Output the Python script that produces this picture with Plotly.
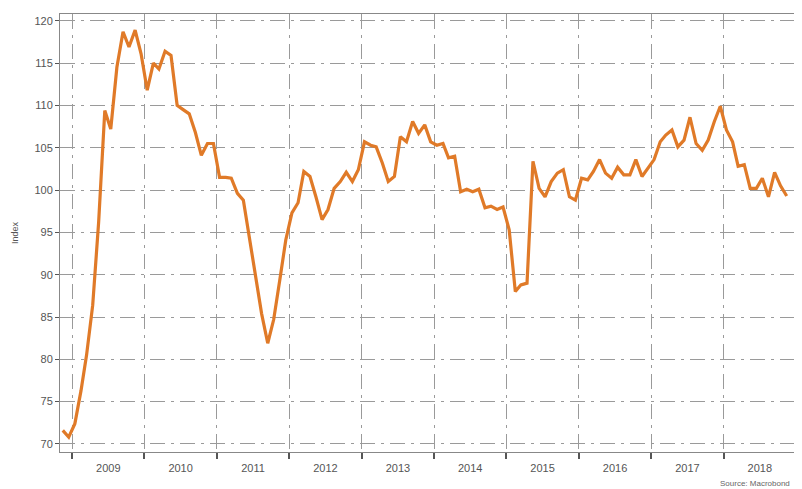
import pandas as pd
import plotly.graph_objects as go

start_month = "2008-11-01"
values = [
    71.6, 70.8,
    72.4, 76.3, 80.5, 86.4, 96.2, 109.4, 107.2, 114.5, 118.7, 116.9, 118.9, 116.1,
    111.8, 115.0, 114.3, 116.4, 115.9, 110.0, 109.5, 109.0, 106.8, 104.1, 105.5, 105.5,
    101.5, 101.5, 101.4, 99.6, 98.8, 94.1, 89.8, 85.4, 81.9, 84.7, 89.4, 94.1,
    97.3, 98.5, 102.2, 101.6, 99.2, 96.5, 97.7, 100.2, 101.0, 102.1, 101.0, 102.4,
    105.7, 105.3, 105.1, 103.2, 101.0, 101.6, 106.3, 105.7, 108.1, 106.7, 107.7, 105.7,
    105.3, 105.5, 103.8, 104.0, 99.8, 100.1, 99.8, 100.1, 97.9, 98.1, 97.7, 98.0,
    95.3, 88.0, 88.8, 89.0, 103.4, 100.2, 99.2, 101.0, 102.0, 102.4, 99.2, 98.8,
    101.4, 101.2, 102.2, 103.6, 102.0, 101.4, 102.7, 101.8, 101.8, 103.6, 101.6, 102.6,
    103.6, 105.7, 106.5, 107.1, 105.1, 105.9, 108.6, 105.5, 104.7, 105.9, 108.1, 109.9,
    107.1, 105.7, 102.8, 103.0, 100.2, 100.2, 101.4, 99.2, 102.1, 100.5, 99.3,
]
dates = pd.date_range(start_month, periods=len(values), freq="MS") + pd.Timedelta(days=14)

y_ticks = [70, 75, 80, 85, 90, 95, 100, 105, 110, 115, 120]

fig = go.Figure()
fig.add_trace(go.Scatter(
    x=dates, y=values, mode="lines",
    line=dict(color="#E07A28", width=3.2),
    hoverinfo="skip", showlegend=False,
))

font = "Liberation Sans, Arial, sans-serif"
fig.update_layout(
    width=794, height=481, autosize=False,
    margin=dict(l=52, r=4, t=6, b=37),
    paper_bgcolor="white", plot_bgcolor="white",
    font=dict(family=font, size=11, color="#555555"),
)
fig.update_xaxes(
    type="date",
    range=["2008-11-01", "2019-01-11"],
    tick0="2009-01-01", dtick="M12", tickformat="%Y",
    ticklabelmode="period",
    ticks="outside", ticklen=6, tickcolor="#555555", tickwidth=2,
    showline=True, linecolor="#888888", linewidth=1, mirror=True,
    showgrid=True, gridcolor="#9a9a9a", gridwidth=1, griddash="longdashdot",
    tickfont=dict(size=11, color="#555555"),
    zeroline=False,
)
fig.update_yaxes(
    range=[69.05, 120.8],
    tickvals=y_ticks,
    ticks="outside", ticklen=4, tickcolor="#555555",
    showline=True, linecolor="#888888", linewidth=1, mirror=True,
    showgrid=True, gridcolor="#9a9a9a", gridwidth=1, griddash="longdashdot",
    tickfont=dict(size=11, color="#555555"),
    title=dict(text="Index", font=dict(size=9, color="#555555"), standoff=14),
    zeroline=False,
)
fig.add_annotation(
    text="Source: Macrobond", xref="paper", yref="paper",
    x=0.892, y=-0.073, xanchor="left", yanchor="middle",
    showarrow=False, font=dict(size=8, color="#666666"),
)
fig.write_html("out.html")
